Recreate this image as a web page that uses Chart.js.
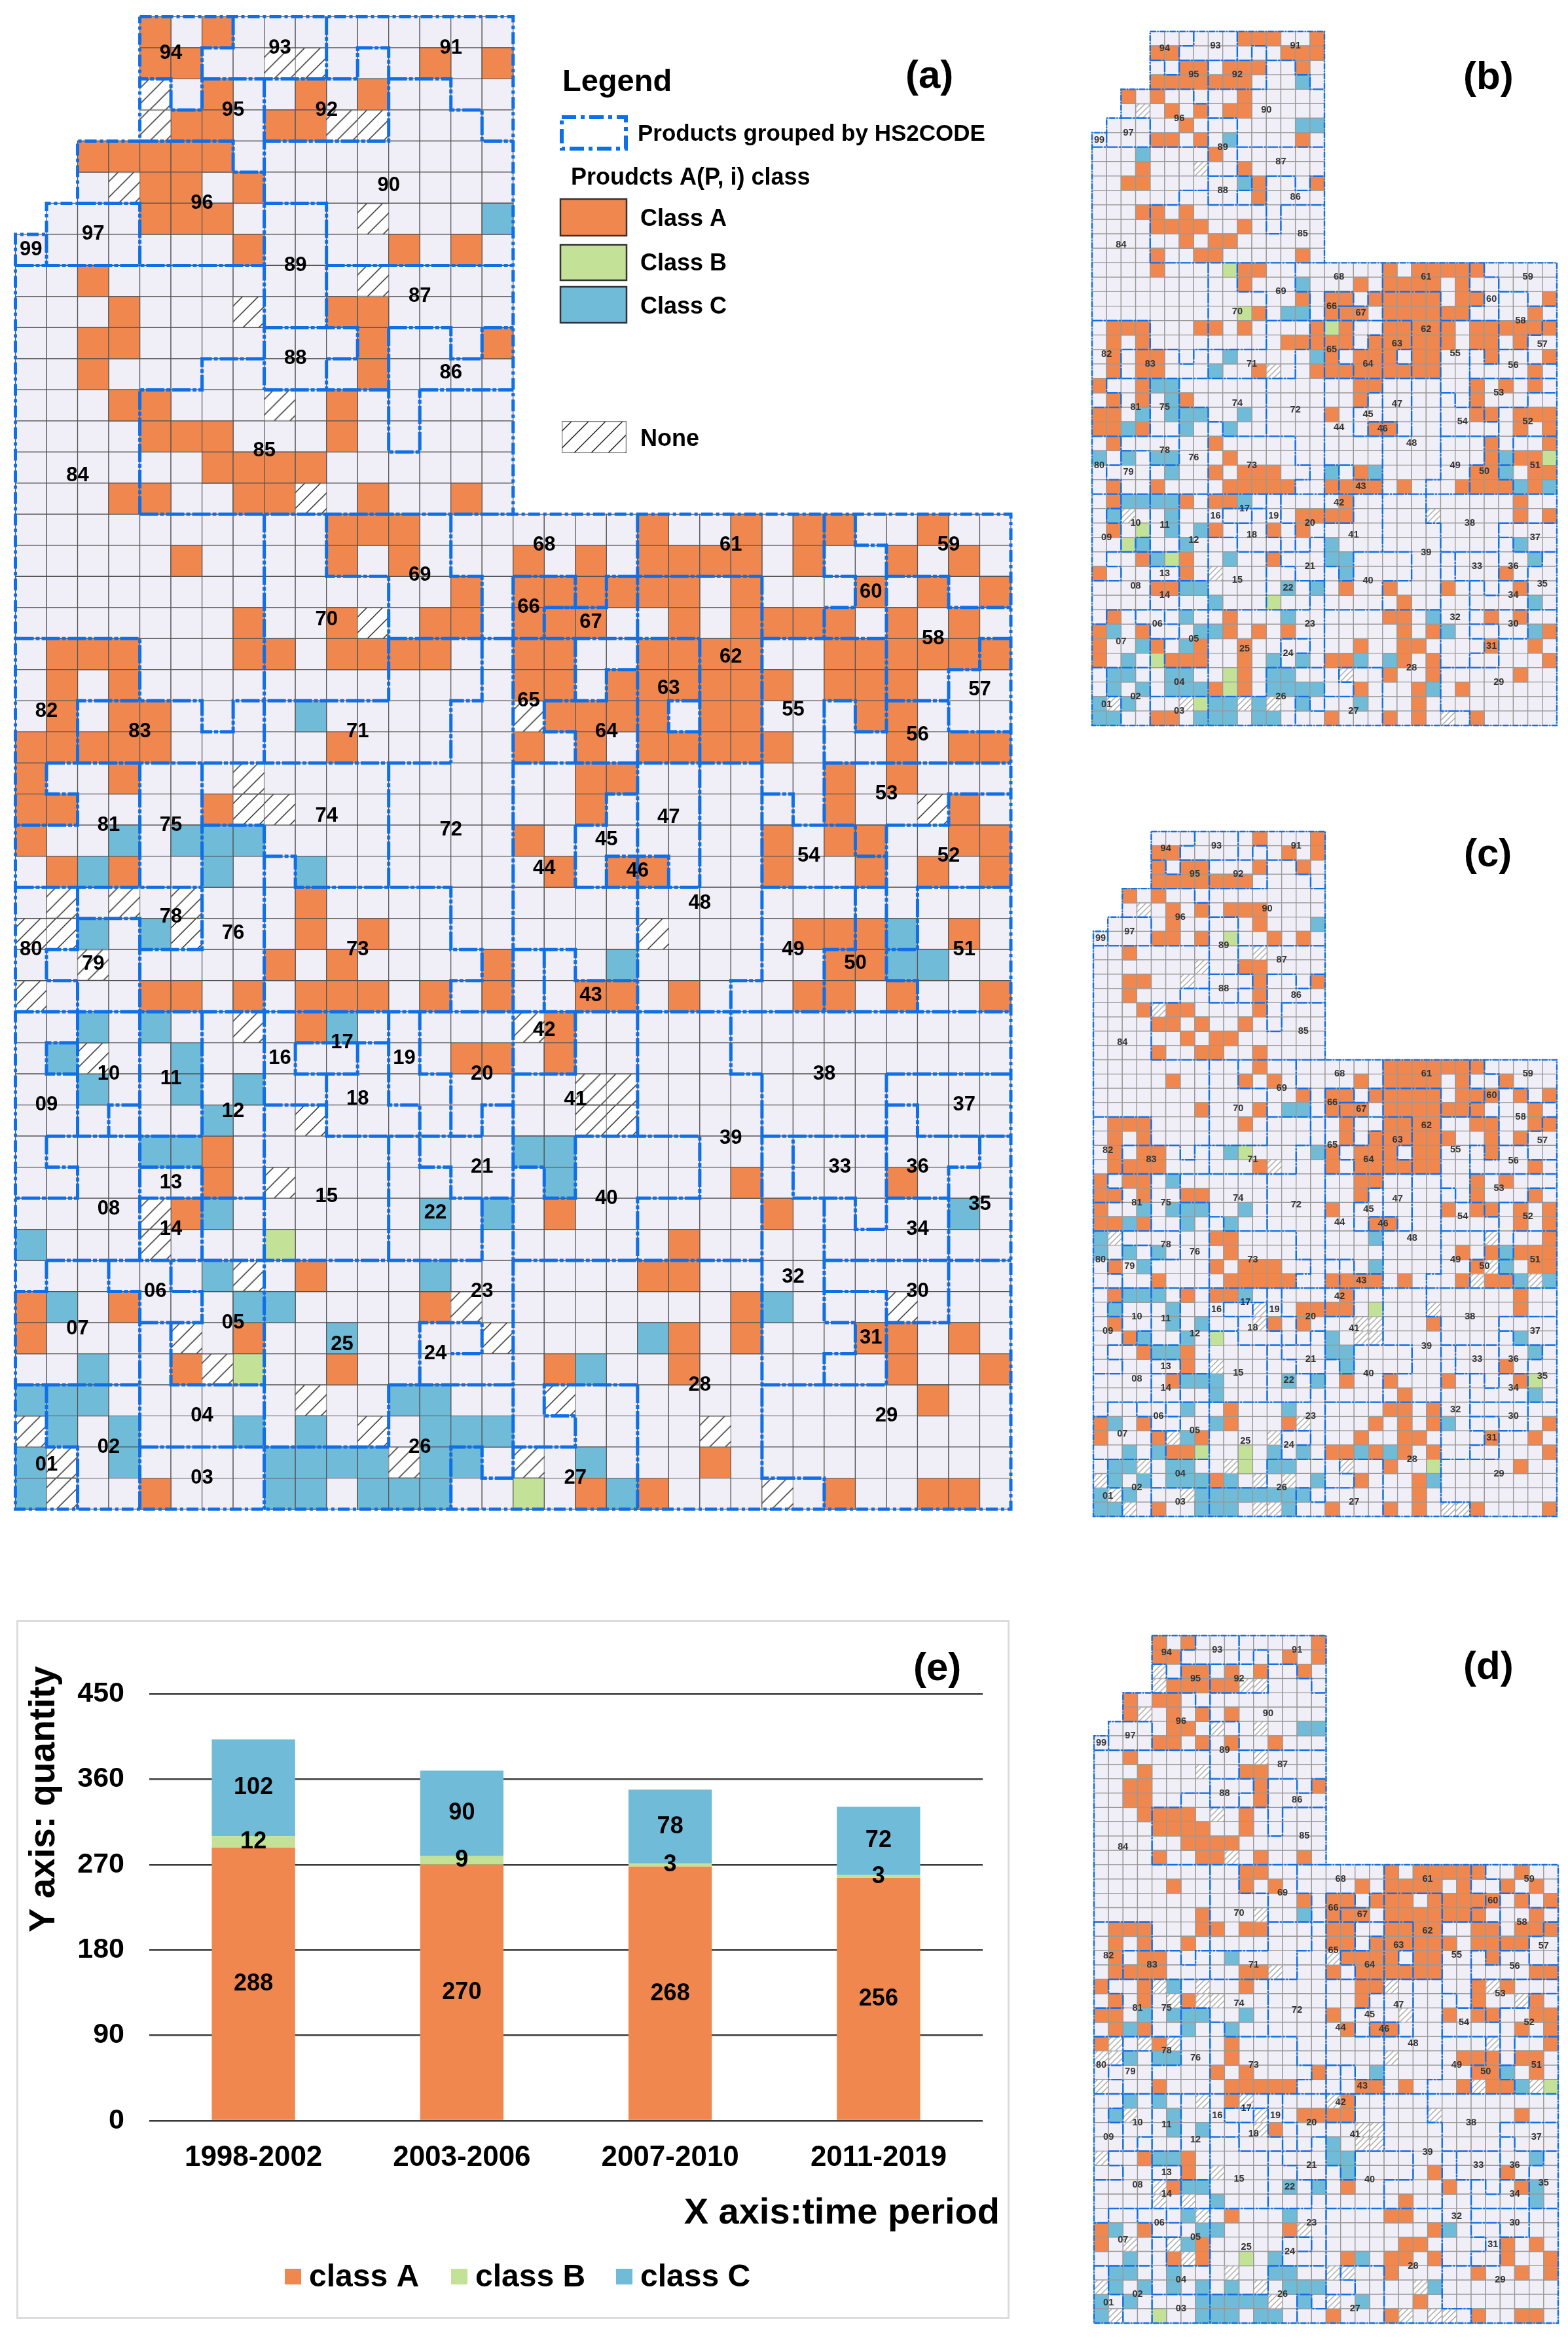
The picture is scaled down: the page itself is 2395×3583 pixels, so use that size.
<!DOCTYPE html>
<html>
<head>
<meta charset="utf-8">
<title>Product class maps by HS2 code</title>
<script src="https://cdn.jsdelivr.net/npm/chart.js@4/dist/chart.umd.min.js"></script>
<style>
  body { margin: 0; background: #fff; }
  canvas { position: absolute; }
</style>
</head>
<body>
<canvas id="panel-a" style="left:0;top:0"></canvas>
<canvas id="panel-b" style="left:1640px;top:20px"></canvas>
<canvas id="panel-c" style="left:1640px;top:1250px"></canvas>
<canvas id="panel-d" style="left:1640px;top:2480px"></canvas>
<canvas id="panel-e" style="left:25px;top:2474px"></canvas>
<script>
/* ── Grid shape: first / last+1 column of each row block ── */
const ROW_START = [4,4,4,4,2,2,1,0];   // rows 0-7, later rows start at 0
const TOP_ROWS  = 16;                  // rows above this stop at column 16
const COLS = 32, ROWS = 48;

/* ── Cell classes: [row, col, col, ...] ── */
const aClassA = [[0,4,6],[1,4,5,13,15],[2,6,9,11],[3,5,6,8,9],[4,2,3,4,5,6],[5,4,5,7],[6,4,5,6],[7,7,12,14],[8,2],[9,3,10,11],[10,2,3,11,15],[11,2,11],[12,3,4,10],[13,4,5,6,10],[14,6,7,8,9],[15,3,4,7,8,11,14],
  [16,10,11,12,20,23,25,26,29],[17,5,10,12,16,18,20,21,22,23,25,28,30],[18,14,16,17,18,19,20,21,23,27,29,31],[19,7,10,13,14,16,17,18,21,23,24,25,26,28,30],
  [20,1,2,3,7,8,10,11,12,13,16,17,20,21,22,23,26,27,28,29,30,31],[21,1,3,16,17,19,20,21,22,23,24,26,27,28],[22,1,3,4,17,18,19,20,22,23,27,28],[23,0,1,2,3,4,10,16,18,20,21,22,23,24,28,30,31],
  [24,0,3,18,19,26,28],[25,0,1,6,18,26,30],[26,0,16,24,26,27,30,31],[27,1,3,17,19,20,24,27,29,31],[28,9],[29,9,11,25,26,27,30],[30,8,10,15,26,27],[31,4,5,7,9,10,11,13,15,18,19,21,25,26,28,31],
  [32,9,17],[33,14,15,17],[36,6],[37,6,23,28],[38,5,17,24],[39,21],[40,9,20,21],[41,0,3,13,23],[42,0,7,21,23,27,28,30],[43,5,10,17,21,28,31],[44,29],[46,22],[47,4,18,20,26,29,30]];
const aClassB = [[39,8],[43,7],[47,16]];
const aClassC = [[6,15],[22,9],[26,3,5,6,7],[27,2,6,9],[29,2,4,28],[30,19,28,29],[32,2,4,10],[33,1,5],[34,2,5,7],[35,6],[36,4,5,16,17],[37,17],[38,6,13,15,30],[39,0],[40,6,13],[41,1,7,8,24],[42,10,20],[43,2,18],[44,0,1,2,12,13],[45,1,3,7,9,13,14,15],[46,0,3,8,9,10,11,13,14,18],[47,0,8,9,11,12,13,19]];
const aNone   = [[1,8,9],[2,4],[3,4,10,11],[5,3],[6,11],[8,11],[9,7],[12,8],[15,9],[19,11],[22,16],[24,7],[25,7,8,29],[28,1,3,5],[29,0,1,5,20],[30,2],[31,0],[32,7,16],[33,2],[34,18,19],[35,9,18,19],[37,8],[38,4],[39,4],[40,7],[41,14,28],[42,5,15],[43,6],[44,9,17],[45,0,11,22],[46,1,12,16],[47,1,24]];

const bClassA = [[0,10,11,12,15],[1,4,5,13,14,15],[2,6,7,9,10,11,14],[3,4,5,6,7,8,9,10],[4,2,4,10],[5,5,7,9,10],[6,6],[7,4,5,7,14],[8,8],[9,3,10],[10,2,3,11,15],[11,11],[12,3,4,6],[13,4,5,6,7,10],[14,6,8,9],[15,4,7,8,14],
  [16,4,10,11,20,22,23,24,25,26],[17,10,18,20,21,22,23,25],[18,14,16,17,19,20,21,22,23,25,26,31],[19,11,16,17,18,20,21,22,23,24,25,30],[20,1,2,3,7,8,10,15,17,20,21,22,23,24,26,27,28,29,30,31],[21,1,3,13,14,15,16,17,19,20,21,22,23,24,26,27,29],[22,1,3,4,16,18,19,20,22,23,27,31],[23,1,3,4,11,15,16,17,18,19,20,21,22,23,30],
  [24,0,3,18,19,26,28,30],[25,1,3,6,18,26],[26,0,1,16,26,27,29,30,31],[27,0,1,3,19,20,29,31],[28,1,8,27,31],[29,9,27,29,30],[30,8,10,11,12,18,26,27,30,31],[31,1,4,9,10,11,12,13,16,17,18,19,21,25,26,27,28,30],
  [32,1,6,8,9,17,29],[33,14,15,16,17,29,31],[34,1,8,12,14],[36,3,6,12],[37,0,6,28],[38,4,5,17,20,24,29],[39,21],[40,1,9,20,21,27,29],[41,0,3,9,11,13,21,23,31],[42,0,4,7,10,18,21,22,27,30],[43,0,5,6,7,10,16,17,21,23,31],[44,10,20,23,29],[45,8,10,18,22,25],[46,22],[47,4,5,16,20,22,26]];
const bClassB = [[16,9],[19,10],[20,16],[29,31],[34,3],[35,2],[36,5],[39,12],[43,4],[44,9],[45,9],[46,7]];
const bClassC = [[3,14],[6,14,15],[7,9],[8,3],[10,10],[17,14],[19,13,14],[22,9,15],[23,8],[24,4,5],[25,5],[26,3,5,6,7,10],[27,2,6,9],[29,0,2,4,5,28],[30,5,16,19,28],[31,29,31],[32,2,3,4,5,10],[33,1,5],[34,5,7],[35,3,6,16,29],[36,4,9,16,17,30],[37,17],[38,6,7,13,15],[39,8,30],[40,6,13,23],[41,1,7,8,24,30],[42,3,6],[43,2,12,14,18,20],[44,1,2,5,6,12,13],[45,1,3,5,6,7,12,13,14,15,23],[46,0,2,8,9,11,14,18],[47,0,1,7,8,9,11,12]];
const bNone   = [[5,3],[9,7],[23,12],[33,2,23],[37,8],[44,17],[46,1,6,10,12],[47,24]];

const cClassA = [[0,11,15],[1,4,5,13,15],[2,4,6,7,11,14],[3,4,5,6,7,8,9,10],[4,2,4],[5,5,7,9,10,11],[6,5,11],[7,4,5,7,12,14],[8,2],[9,10,11],[10,2,3,11,15],[11,2,11],[12,3,5,6,11],[13,4,5,7,10],[14,6,8,9],[15,4,7,8,11],
  [16,11,20,21,22,23,24,25,26],[17,5,10,12,18,20,21,22,23,25,28],[18,14,16,17,19,20,21,22,23,25,26,27,29,31],[19,7,11,16,17,18,20,21,22,23,24,25,26,30],[20,1,2,3,10,17,20,21,22,23,26,27,30,31],[21,1,3,17,19,20,21,22,23,24,27,29],[22,1,3,4,16,18,19,20,22,23,27],[23,1,2,3,4,11,16,18,19,20,21,22,23,30],
  [24,0,2,3,18,19,26,28],[25,0,1,3,6,7,18,26,30],[26,0,16,24,26,27,29,31],[27,0,1,3,19,20,29,31],[28,8,9,31],[29,9,25,27,29,30,31],[30,1,8,10,11,12,26,30,31],[31,4,9,10,11,12,13,16,17,18,19,21,25,27,28],
  [32,1,6,8,9,17,29],[33,14,15,16,17,29],[34,1,12,14,23],[35,2],[36,3,6],[37,6,28],[38,5,17,20,24,29],[39,21],[40,9,20,21,23],[41,0,3,9,13,19,21,23,31],[42,0,4,7,18,21,22,27,30],[43,5,6,16,17,19,21,23,31],[44,20,29],[45,8,18,22],[46,22],[47,4,16,20,22,26,31]];
const cClassB = [[7,9],[22,10],[33,19],[35,8],[38,30],[43,7,10],[44,10,23]];
const cClassC = [[6,15],[19,13,14],[22,9,15],[24,5],[26,3,5,6,7,10],[27,2,6,9],[28,0,19],[29,0,2,4,28],[30,3,19,28],[31,29,31],[32,2,3,4,10],[33,1,5],[34,5,7],[35,3,6,16,29],[36,4,5,16,17,30],[37,17],[38,6,7,8,13,15],[39,8,30],[40,6,13],[41,1,8,24],[42,6],[43,2,4,12,14,18,20],[44,1,2,5,6,12,13],[45,1,3,5,6,7,9,15,23],[46,0,2,7,8,9,10,11,12,13,14],[47,0,1,7,8,9,13]];
const cNone   = [[5,3],[8,11],[9,7],[10,6],[12,4],[23,12],[28,1,27],[30,27],[31,26,30],[33,11,23],[34,11,18,19],[35,18,19],[37,8],[41,14],[42,5,12],[44,3,9,17],[45,0,11,13],[46,1,6],[47,2,11,12,24,25]];

const dClassA = [[0,4,6,15],[1,4,5,13,15],[2,6,7,9,11,14],[3,5,6,7,8,9],[4,2,4,5],[5,2,5,7,9],[6,5,6],[7,4,5,7,9,12],[8,2],[9,3,10,11],[10,2,3,11,15],[11,2,3,11],[12,3,4,5,6,10],[13,4,5,6,7,10],[14,6,7,8,9],[15,4,7,8,11,14],
  [16,10,11,20,22,23,24,25,26,29],[17,5,10,12,18,20,21,22,23,25,28,30],[18,14,16,17,19,20,21,23,24,25,26,27,29,31],[19,7,16,17,18,20,21,22,23,24,25,26,30],[20,1,2,3,7,8,10,11,16,17,20,21,22,23,26,27,29,30,31],[21,1,3,6,16,17,19,20,21,22,23,24,26,27,28,29],[22,1,3,4,17,18,19,20,22,23,27],[23,1,2,3,4,10,11,16,18,19,20,21,22,23,30,31],
  [24,0,3,10,18,19,26,28],[25,1,3,6,18,26,30],[26,0,1,16,24,26,27,30,31],[27,1,3,17,19,20,29,31],[28,0,4,9,31],[29,9,25,26,27,29,30],[30,8,10,15,26,27,30],[31,4,9,10,11,12,13,18,19,21,25,27,28],
  [32,9,17],[33,14,15,16,17,29],[34,12],[36,3,6],[37,6,23,28],[38,5,17,24,29],[39,21],[40,9,20,21],[41,0,3,13,23],[42,0,7,21,22,28,30],[43,5,7,17,20,21,23,28,31],[44,20,26,29,31],[46,22],[47,16,20,26,29,30]];
const dClassB = [[31,31],[43,10],[47,4]];
const dClassC = [[6,14,15],[19,14],[22,9],[24,5],[26,3,5,6,7,10],[27,2,6,9],[29,2,4,5],[30,19,28],[31,29],[32,2,4],[33,1,5],[34,5,7],[35,16],[36,4,5,16,17,30],[37,17],[38,6,7,13,15,30],[39,8,30],[40,6,13],[41,1,7,8,24],[42,6],[43,2,12,18],[44,1,2,5,12,13],[45,1,3,5,7,9,13,14,15,23],[46,0,2,7,8,9,10,11,14,18],[47,0,7,8,9,11,12]];
const dNone   = [[2,4],[3,4,10,11],[5,3],[6,8,11],[8,11],[9,7],[12,8],[15,9],[19,11],[22,16],[23,12],[24,4,7,20,27],[25,5,7,8,29],[26,21],[28,1,3,5,27],[29,0,1,20],[31,0,26,30],[32,7,10,16],[33,2,11,23],[34,11,18,19],[35,18,19],[36,0],[37,8],[38,4],[39,4,6],[40,7],[41,14],[42,2,5],[43,6],[44,9,16,17],[45,0,11,22],[46,12,16],[47,1,21,23,24]];

/* ── HS2 code labels: [code, grid x, grid y] ── */
const hsLabels = [['94',5,1.18],['93',8.5,1],['91',14,1],['95',7,3],['92',10,3],['96',6,6],['90',12,5.43],['97',2.5,7],['99',.5,7.5],['89',9,8],['87',13,9],['88',9,11],['86',14,11.46],['85',8,13.97],['84',2,14.76],
  ['69',13,17.97],['70',10,19.4],['82',1,22.34],['83',4,23],['71',11,23],['74',10,25.7],['81',3,26],['75',5,26],['72',14,26.16],['78',5,28.96],['76',7,29.47],['73',11,30],['80',.5,30],['79',2.5,30.46],
  ['68',17,17],['61',23,17],['59',30,17],['60',27.5,18.5],['66',16.5,19],['67',18.5,19.47],['58',29.5,20],['62',23,20.6],['63',21,21.6],['57',31,21.65],['65',16.5,22],['55',25,22.3],['64',19,23],['56',29,23.1],
  ['53',28,25],['47',21,25.76],['45',19,26.47],['54',25.5,27],['52',30,27],['44',17,27.4],['46',20,27.47],['48',22,28.5],['49',25,30],['51',30.5,30],['50',27,30.45],['43',18.5,31.47],
  ['17',10.5,33],['16',8.5,33.5],['19',12.5,33.5],['10',3,34],['11',5,34.15],['20',15,34],['18',11,34.8],['09',1,35],['12',7,35.2],['21',15,37],['13',5,37.5],['15',10,37.95],['08',3,38.35],['22',13.5,38.47],['14',5,39],
  ['23',15,41],['06',4.5,41],['05',7,42],['07',2,42.2],['25',10.5,42.7],['24',13.5,43],['04',6,45],['26',13,46],['02',3,46],['01',1,46.57],['03',6,47],
  ['42',17,32.6],['41',18,34.82],['38',26,34],['37',30.5,35],['39',23,36.06],['33',26.5,37],['36',29,37],['40',19,38],['35',31,38.2],['34',29,39],['32',25,40.54],['30',29,41],['31',27.5,42.5],['28',22,44],['29',28,45],['27',18,47]];
// code 85 sits elsewhere on the three small maps
const smallLabelMoves = { '85': [14.5, 14] };

/* ── HS2 group outlines: polylines along grid lines ── */
const outerLine = [[4,0],[16,0],[16,16],[32,16],[32,48],[0,48],[0,7],[1,7],[1,6],[2,6],[2,4],[4,4],[4,0]];
const groupLines = [
  [[7,0],[7,1],[6,1],[6,3],[5,3],[5,2],[4,2]],[[10,0],[10,2]],[[6,2],[11,2],[11,1],[12,1],[12,4],[8,4]],[[12,2],[14,2],[14,3],[15,3],[15,4],[16,4]],[[8,2],[8,12]],
  [[4,4],[7,4],[7,5],[8,5]],[[2,6],[4,6],[4,8]],[[0,8],[8,8]],[[1,7],[1,8]],[[8,6],[10,6],[10,10]],[[10,8],[16,8]],[[8,10],[11,10],[11,11],[10,11],[10,12]],[[8,12],[12,12]],
  [[12,10],[12,14],[13,14],[13,12]],[[12,10],[14,10],[14,11],[15,11],[15,10],[16,10]],[[13,12],[16,12]],[[8,11],[6,11],[6,12],[4,12],[4,16]],[[4,16],[16,16]],
  [[8,16],[8,24]],[[10,16],[10,18],[12,18],[12,22]],[[14,16],[14,18],[15,18],[15,22],[14,22],[14,24]],[[0,20],[4,20],[4,22]],[[12,20],[22,20]],
  [[2,24],[2,22],[6,22],[6,23],[7,23],[7,22],[12,22]],[[1,24],[14,24]],[[16,24],[24,24]],[[1,24],[1,25],[2,25],[2,26],[0,26]],[[4,24],[4,28]],[[0,28],[6,28]],[[6,24],[6,30],[4,30],[4,32]],
  [[6,26],[8,26]],[[8,26],[8,48]],[[8,27],[9,27],[9,28],[14,28],[14,30],[15,30],[15,31],[14,31],[14,32]],[[12,24],[12,28]],[[2,28],[2,30],[1,30],[1,31],[2,31],[2,32]],[[2,29],[4,29],[4,30]],[[0,32],[32,32]],
  [[16,18],[16,47]],[[16,18],[18,18],[18,19],[17,19],[17,20]],[[17,19],[19,19],[19,18],[24,18]],[[20,16],[20,36]],[[18,20],[18,22]],[[17,22],[19,22],[19,21],[20,21]],[[17,22],[17,23],[18,23],[18,24]],
  [[22,20],[22,28]],[[22,22],[21,22],[21,23],[22,23]],[[24,18],[24,31],[23,31],[23,34],[24,34]],[[24,34],[24,47],[26,47],[26,48]],[[24,20],[28,20]],[[26,16],[26,18],[27,18],[27,19],[26,19],[26,20]],
  [[27,16],[27,17],[28,17],[28,23],[27,23],[27,22],[26,22],[26,26]],[[28,18],[30,18],[30,19],[32,19]],[[32,20],[31,20],[31,21],[30,21],[30,23],[32,23]],[[28,22],[30,22]],[[26,24],[32,24]],
  [[24,25],[25,25],[25,26],[27,26],[27,27],[28,27]],[[28,26],[28,31]],[[28,26],[30,26],[30,25],[32,25]],[[24,28],[28,28]],[[27,28],[27,30],[26,30],[26,32]],[[32,28],[29,28],[29,30],[28,30]],[[28,31],[29,31],[29,32]],
  [[18,26],[19,26],[19,25],[20,25]],[[18,26],[18,28]],[[19,28],[19,27],[21,27],[21,28]],[[18,28],[22,28]],[[16,30],[18,30],[18,31],[20,31]],[[17,30],[17,32]],
  [[2,32],[2,36]],[[2,33],[1,33],[1,34],[2,34]],[[4,35],[3,35],[3,36]],[[4,32],[4,40]],[[1,36],[6,36]],[[6,32],[6,36]],[[1,36],[1,37],[2,37],[2,38],[0,38]],[[4,37],[6,37]],[[6,37],[6,40]],[[4,38],[8,38]],
  [[1,40],[15,40]],[[1,40],[1,41],[0,41]],[[3,40],[3,41],[4,41],[4,48]],[[4,42],[6,42],[6,41],[5,41],[5,40]],[[5,42],[5,44],[8,44]],[[9,33],[12,33]],[[9,33],[9,34],[11,34],[11,33]],
  [[12,32],[12,35],[13,35],[13,37],[14,37],[14,38],[16,38]],[[15,38],[15,40]],[[13,32],[13,34],[14,34],[14,36]],[[16,34],[18,34],[18,32]],[[16,35],[15,35],[15,36]],[[10,34],[10,36],[15,36]],[[8,35],[10,35]],[[12,36],[12,40]],
  [[13,44],[13,42],[15,42],[15,43],[14,43]],[[0,44],[4,44]],[[12,44],[16,44]],[[12,44],[12,46]],[[1,44],[1,46],[2,46],[2,48]],[[4,46],[12,46]],[[16,47],[15,47],[15,46],[14,46],[14,48]],
  [[18,36],[22,36],[22,38],[20,38],[20,40]],[[16,40],[24,40]],[[18,36],[18,38],[17,38],[17,37],[16,37]],[[28,34],[32,34]],[[28,34],[28,39],[27,39],[27,38],[25,38],[25,36]],[[24,36],[28,36]],[[28,35],[29,35],[29,36],[32,36]],
  [[26,38],[26,42],[27,42],[27,43],[26,43],[26,44]],[[31,36],[31,37],[30,37],[30,42],[28,42]],[[28,38],[30,38]],[[26,40],[32,40]],[[26,41],[28,41],[28,44],[24,44]],[[20,44],[17,44],[17,45],[18,45],[18,46],[16,46]],[[20,44],[20,48]]];

/* ── Panel (e) data ── */
const periods = ['1998-2002','2003-2006','2007-2010','2011-2019'];
const seriesA = [288,270,268,256];
const seriesB = [12,9,3,3];
const seriesC = [102,90,78,72];
const yTicks  = [0,90,180,270,360,450];

/* ── Colours ── */
const ORANGE = '#f0874e', GREEN = '#c3e297', BLUE = '#6fbbd8', CELL = '#f0eef6', LINE = '#0f6fe6';
const FONT = '"Liberation Sans", Arial, sans-serif';

/* ── Helpers ── */
const toPoints = rows => rows.flatMap(([r, ...cols]) => cols.map(c => ({ x: c + .5, y: r + .5 })));

function allCells() {
  const pts = [];
  for (let r = 0; r < ROWS; r++) {
    const from = r < ROW_START.length ? ROW_START[r] : 0;
    const to   = r < TOP_ROWS ? 16 : COLS;
    for (let c = from; c < to; c++) pts.push({ x: c + .5, y: r + .5 });
  }
  return pts;
}

function linePoints(lines) {
  const pts = [];
  lines.forEach(l => {
    l.forEach(([x, y]) => pts.push({ x, y }));
    pts.push({ x: NaN, y: NaN });
  });
  return pts;
}

function makeHatch(w, h, step, color, lw, border, borderW) {
  const cv = document.createElement('canvas');
  cv.width = Math.round(w); cv.height = Math.round(h);
  const g = cv.getContext('2d');
  g.fillStyle = '#fff';
  g.fillRect(0, 0, cv.width, cv.height);
  g.strokeStyle = color;
  g.lineWidth = lw;
  for (let d = step * .6; d < cv.width + cv.height; d += step) {
    g.beginPath();
    g.moveTo(d, 0);
    g.lineTo(d - cv.height, cv.height);
    g.stroke();
  }
  g.strokeStyle = border;
  g.lineWidth = borderW;
  g.strokeRect(0, 0, cv.width, cv.height);
  return cv;
}

/* ── Text plugin for the grid panels ── */
const gridText = {
  id: 'gridText',
  afterDatasetsDraw(chart, _a, o) {
    const { ctx, scales: { x, y } } = chart;
    ctx.save();
    ctx.fillStyle = o.color;
    ctx.font = `bold ${o.size}px ${FONT}`;
    ctx.textAlign = 'center';
    ctx.textBaseline = 'middle';
    hsLabels.forEach(([t, gx, gy]) => {
      const [px, py] = (o.moves && o.moves[t]) || [gx, gy];
      ctx.fillText(t, x.getPixelForValue(px), y.getPixelForValue(py));
    });
    ctx.fillStyle = '#000';
    ctx.font = `bold 60px ${FONT}`;
    ctx.textAlign = 'left';
    ctx.textBaseline = 'alphabetic';
    ctx.fillText(o.tag, o.tagX, o.tagY);
    ctx.restore();
  },
};

/* ── Legend of panel (a) ── */
const mapLegend = {
  id: 'mapLegend',
  afterDraw(chart) {
    const ctx = chart.ctx;
    ctx.save();
    ctx.fillStyle = '#000';
    ctx.font = `bold 47px ${FONT}`;
    ctx.fillText('Legend', 859, 139);
    ctx.font = `bold 35px ${FONT}`;
    ctx.fillText('Products grouped by HS2CODE', 974, 215);
    ctx.font = `bold 36px ${FONT}`;
    ctx.fillText('Proudcts A(P, i) class', 872, 282);
    ctx.fillText('Class A', 978, 345);
    ctx.fillText('Class B', 978, 413);
    ctx.fillText('Class C', 978, 479);
    ctx.fillText('None', 978, 681);

    ctx.strokeStyle = LINE;
    ctx.lineWidth = 6;
    ctx.setLineDash([22, 7, 6, 7]);
    ctx.strokeRect(858, 179, 98, 48);
    ctx.setLineDash([]);

    ctx.strokeStyle = '#333';
    ctx.lineWidth = 2.5;
    [[ORANGE, 304, 56], [GREEN, 374, 54], [BLUE, 438, 55]].forEach(([col, top, h]) => {
      ctx.fillStyle = col;
      ctx.fillRect(856, top, 101, h);
      ctx.strokeRect(856, top, 101, h);
    });
    ctx.drawImage(makeHatch(99, 49, 26, '#222', 1.5, '#777', 2.5), 858, 643);
    ctx.restore();
  },
};

/* ── Grid panel builder ── */
function buildMap(id, cfg) {
  const side = (cfg.w - cfg.left - cfg.right) / COLS;
  const radius = side * Math.SQRT1_2;
  const rowH = (cfg.h - cfg.top - cfg.bottom) / ROWS;
  const hatch = makeHatch(side, rowH, cfg.hatchStep, cfg.hatchColor, cfg.hatchW, cfg.cellBorder, cfg.cellW);
  const cellSet = (label, data, color) => ({
    label, data, pointStyle: 'rect', pointRadius: radius,
    pointBackgroundColor: color, pointBorderColor: cfg.cellBorder, pointBorderWidth: cfg.cellW, showLine: false, clip: false,
  });
  const canvas = document.getElementById(id);
  canvas.width = cfg.w; canvas.height = cfg.h;
  return new Chart(canvas, {
    type: 'scatter',
    data: {
      datasets: [
        { label: 'outline', data: linePoints([outerLine]), showLine: true, pointRadius: 0, borderColor: LINE, borderWidth: cfg.lineW, borderDash: cfg.outerDash, tension: 0, spanGaps: false, clip: false },
        { label: 'groups', data: linePoints(groupLines), showLine: true, pointRadius: 0, borderColor: LINE, borderWidth: cfg.lineW, borderDash: cfg.innerDash, tension: 0, spanGaps: false, clip: false },
        { label: 'None', data: toPoints(cfg.none), pointStyle: hatch, pointRadius: radius, showLine: false, clip: false },
        cellSet('Class C', toPoints(cfg.c), BLUE),
        cellSet('Class B', toPoints(cfg.b), GREEN),
        cellSet('Class A', toPoints(cfg.a), ORANGE),
        cellSet('cells', allCells(), CELL),
      ],
    },
    options: {
      responsive: false,
      animation: false,
      events: [],
      layout: { autoPadding: false, padding: { left: cfg.left, right: cfg.right, top: cfg.top, bottom: cfg.bottom } },
      scales: {
        x: { type: 'linear', min: 0, max: COLS, display: false },
        y: { type: 'linear', min: 0, max: ROWS, reverse: true, display: false },
      },
      plugins: {
        legend: { display: false },
        tooltip: { enabled: false },
        gridText: { color: cfg.textColor, size: cfg.textSize, tag: cfg.tag, tagX: cfg.tagX, tagY: cfg.tagY, moves: cfg.moves },
      },
    },
    plugins: cfg.extra ? [gridText, cfg.extra] : [gridText],
  });
}

const SMALL = {
  w: 755, lineW: 2.4, outerDash: [9, 2, 2, 2], innerDash: [16, 2, 3, 2],
  hatchStep: 9, hatchColor: '#999', hatchW: 1.2, cellBorder: '#999', cellW: 1.3,
  textColor: '#333', textSize: 14.5, moves: smallLabelMoves,
};

buildMap('panel-a', { w: 1600, h: 2340, left: 23.5, right: 56, top: 25.5, bottom: 35,
  a: aClassA, b: aClassB, c: aClassC, none: aNone,
  lineW: 5, outerDash: [18, 5, 5, 5], innerDash: [28, 3, 6, 3],
  hatchStep: 24, hatchColor: '#222', hatchW: 1.4, cellBorder: '#555', cellW: 1.2,
  textColor: '#000', textSize: 31, tag: '(a)', tagX: 1383, tagY: 134, extra: mapLegend });

buildMap('panel-b', { ...SMALL, h: 1120, left: 28, right: 17, top: 28, bottom: 32,
  a: bClassA, b: bClassB, c: bClassC, none: bNone, tag: '(b)', tagX: 595, tagY: 116 });

buildMap('panel-c', { ...SMALL, h: 1090, left: 30, right: 17, top: 20, bottom: 24,
  a: cClassA, b: cClassB, c: cClassC, none: cNone, tag: '(c)', tagX: 596, tagY: 73 });

buildMap('panel-d', { ...SMALL, h: 1090, left: 31, right: 15, top: 18, bottom: 22,
  a: dClassA, b: dClassB, c: dClassC, none: dNone, tag: '(d)', tagX: 595, tagY: 84 });

/* ── Panel (e): stacked bars ── */
const barText = {
  id: 'barText',
  afterDatasetsDraw(chart) {
    const { ctx, scales: { x, y } } = chart;
    ctx.save();
    ctx.fillStyle = '#000';
    ctx.textAlign = 'center';
    ctx.textBaseline = 'middle';
    ctx.font = `bold 36px ${FONT}`;
    periods.forEach((_p, i) => {
      let base = 0;
      [seriesA, seriesB, seriesC].forEach(s => {
        ctx.fillText(String(s[i]), x.getPixelForValue(i), y.getPixelForValue(base + s[i] / 2));
        base += s[i];
      });
    });
    ctx.restore();
  },
  afterDraw(chart) {
    const ctx = chart.ctx;
    ctx.save();
    ctx.strokeStyle = '#dcdcdc';
    ctx.lineWidth = 3;
    ctx.strokeRect(1.5, 1.5, chart.width - 3, chart.height - 3);
    ctx.fillStyle = '#000';
    ctx.font = `bold 60px ${FONT}`;
    ctx.fillText('(e)', 1370, 92);

    ctx.font = `bold 56px ${FONT}`;
    ctx.textAlign = 'right';
    ctx.fillText('X axis:time period', 1502, 922);
    ctx.translate(58, 274);
    ctx.rotate(-Math.PI / 2);
    ctx.textAlign = 'center';
    ctx.font = `bold 55px ${FONT}`;
    ctx.fillText('Y axis: quantity', 0, 0);
    ctx.restore();

    ctx.save();
    ctx.font = `bold 48px ${FONT}`;
    chart.data.datasets.forEach((ds, i) => {
      const mx = 410 + i * 254 + (i === 2 ? -2 : 0);
      ctx.fillStyle = ds.backgroundColor;
      ctx.fillRect(mx, 991, 25, 24);
      ctx.fillStyle = '#000';
      ctx.fillText(ds.label, mx + 37, 1018);
    });
    ctx.restore();
  },
};

const barCanvas = document.getElementById('panel-e');
barCanvas.width = 1517; barCanvas.height = 1068;
new Chart(barCanvas, {
  type: 'bar',
  data: {
    labels: periods,
    datasets: [
      { label: 'class A', data: seriesA, backgroundColor: ORANGE },
      { label: 'class B', data: seriesB, backgroundColor: GREEN },
      { label: 'class C', data: seriesC, backgroundColor: BLUE },
    ],
  },
  options: {
    responsive: false,
    animation: false,
    events: [],
    barPercentage: .4,
    categoryPercentage: 1,
    layout: { padding: { top: 113, right: 41 } },
    scales: {
      x: {
        stacked: true,
        grid: { display: false },
        border: { display: false },
        ticks: { color: '#000', font: { family: FONT, size: 44, weight: 'bold' }, padding: 22, maxRotation: 0 },
        afterFit: s => { s.height = 303; },
      },
      y: {
        stacked: true,
        min: 0,
        max: 450,
        grid: { color: '#3a3a3a', lineWidth: 2.5, drawTicks: false },
        border: { display: false },
        ticks: { stepSize: yTicks[1], color: '#000', font: { family: FONT, size: 43, weight: 'bold' }, padding: 38 },
        afterFit: s => { s.width = 203; },
      },
    },
    plugins: { legend: { display: false }, tooltip: { enabled: false } },
  },
  plugins: [barText],
});
</script>
</body>
</html>
